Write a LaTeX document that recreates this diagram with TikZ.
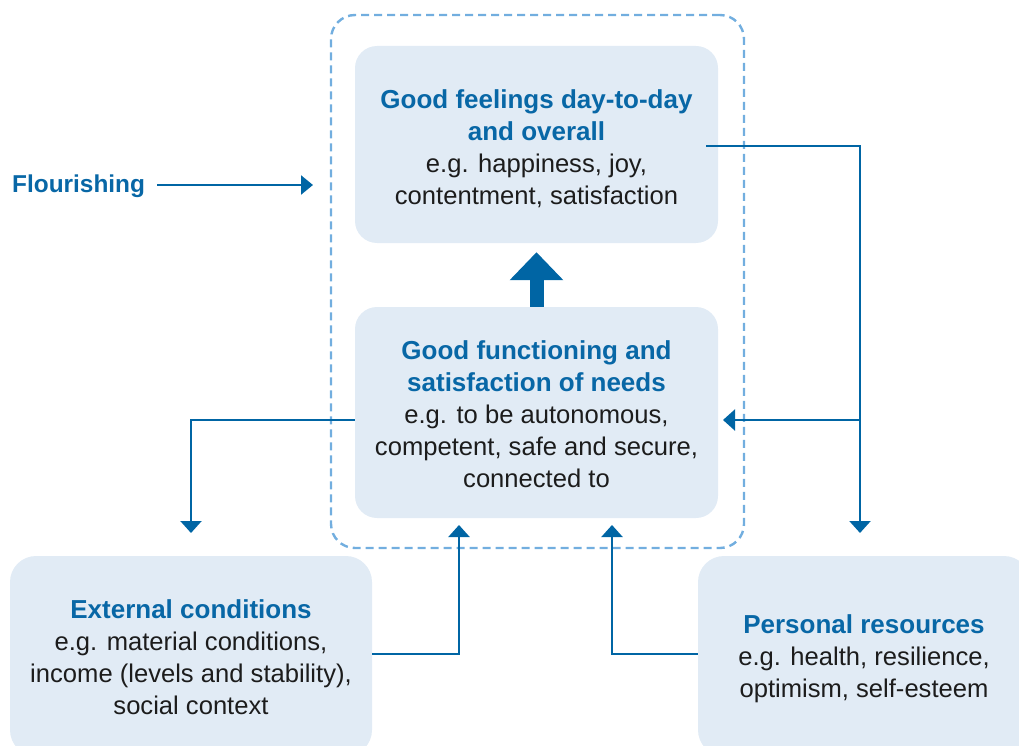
\documentclass[tikz,border=0pt]{standalone}
\usepackage{fontspec}
\setmainfont{Liberation Sans}
\usetikzlibrary{arrows.meta}
\definecolor{tblue}{HTML}{0867A6}
\definecolor{abl}{HTML}{0065A4}
\definecolor{boxfill}{HTML}{E1EBF5}
\definecolor{dashc}{HTML}{72AEDF}
\definecolor{txt}{HTML}{1C1C1C}
\newcommand\ttl[1]{\textcolor{tblue}{\fontsize{26}{32}\selectfont\bfseries #1}}
\begin{document}
\begin{tikzpicture}[x=1pt,y=-1pt,
  box/.style={fill=boxfill, rounded corners=22pt, align=center, text=txt,
    font=\fontsize{25.6}{32}\selectfont, inner sep=0pt},
  conn/.style={abl, line width=2.2pt, -{Triangle[width=21pt,length=12pt]}},
  grpbox/.style={draw=dashc, line width=2.4pt, dash pattern=on 8pt off 5pt, rounded corners=24pt, inner sep=0pt}]
\clip (0,0) rectangle (1019,746);
\node[grpbox, minimum width=413pt, minimum height=533pt] (grp) at (537.5,281.5) {};
\node[box, minimum width=363pt, minimum height=197pt] (top) at (536.5,144.5)
  {\rule{0pt}{26.5pt}\ttl{Good feelings day-to-day}\\\ttl{and overall}\\e.g. happiness, joy,\\contentment, satisfaction};
\node[box, minimum width=363pt, minimum height=211pt] (mid) at (536.5,412.5)
  {\rule{0pt}{22.5pt}\ttl{Good functioning and}\\\ttl{satisfaction of needs}\\e.g. to be autonomous,\\competent, safe and secure,\\connected to};
\node[box, rounded corners=26pt, minimum width=362pt, minimum height=200pt] (ext) at (191,656)
  {\rule{0pt}{20.5pt}\ttl{External conditions}\\e.g. material conditions,\\income (levels and stability),\\social context};
\node[box, rounded corners=26pt, minimum width=332pt, minimum height=200pt] (pers) at (864,656)
  {\rule{0pt}{24.5pt}\ttl{Personal resources}\\e.g. health, resilience,\\optimism, self-esteem};
\node[anchor=base west, inner sep=0pt, text=tblue, font=\fontsize{24.4}{30}\selectfont\bfseries] (fl) at (12,193) {Flourishing};
\coordinate (fs) at (157,185);
\coordinate (fe) at (313,185);
\coordinate (r1) at (860,533);
\coordinate (j1) at (860,420);
\coordinate (mr) at (723,420);
\coordinate (l1) at (191,533);
\coordinate (b1) at (459,525);
\coordinate (b2) at (612,525);
\draw[conn, -{Triangle[width=19pt,length=12pt]}] (fs) -- (fe);
\draw[conn] ([xshift=-12pt,yshift=-1.5pt]top.east) -| (r1);
\draw[conn] (j1) -- (mr);
\draw[conn] ([yshift=-7.5pt]mid.west) -| (l1);
\draw[conn] ([yshift=2pt]ext.east) -| (b1);
\draw[conn] ([yshift=2pt]pers.west) -| (b2);
\draw[abl, line width=14pt, -{Triangle[width=52pt,length=28pt]}] (mid.north) -- ([yshift=-9pt]top.south);
\end{tikzpicture}
\end{document}
